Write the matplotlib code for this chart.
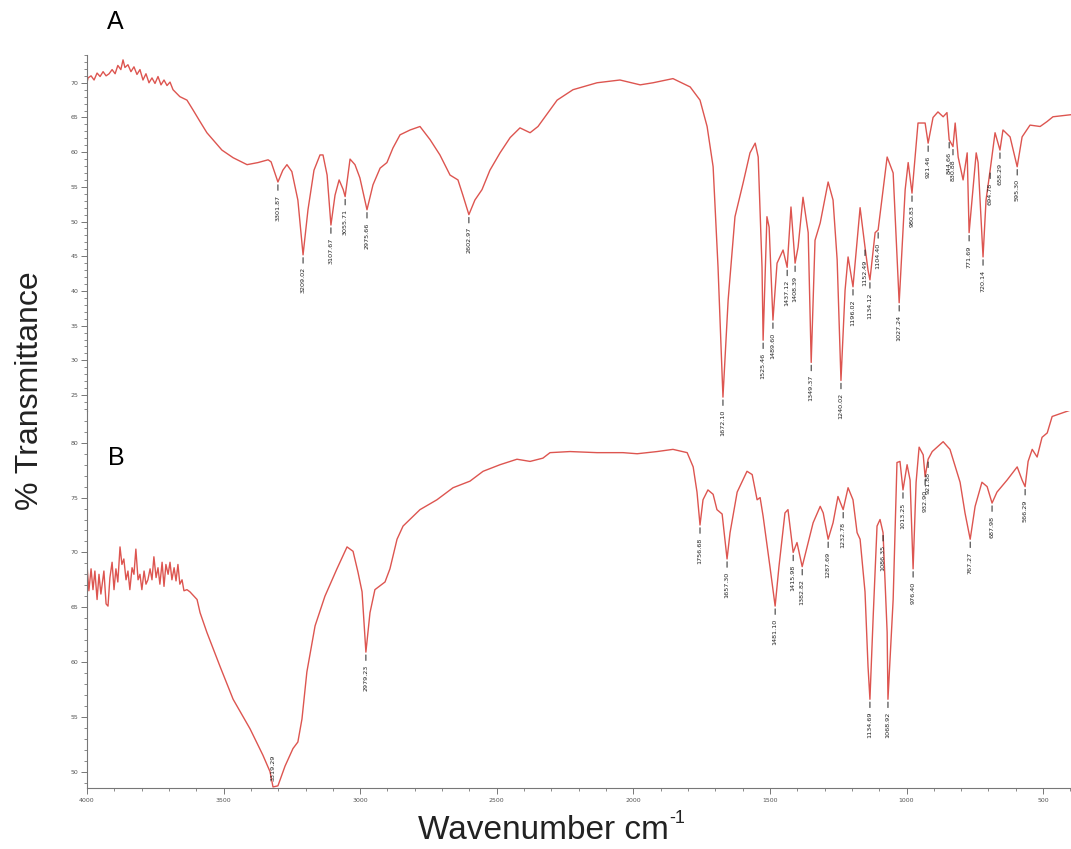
import matplotlib.pyplot as plt
from matplotlib.ticker import MultipleLocator

# Spectrum A (wavenumber cm-1, % transmittance)
A_wn = [4000, 3996, 3985, 3974, 3963, 3952, 3941, 3930, 3919, 3908, 3897, 3887, 3876, 3868,
        3861, 3850, 3839, 3828, 3817, 3806, 3795, 3784, 3773, 3762, 3751, 3740, 3729, 3718,
        3707, 3696, 3685, 3660, 3634, 3612, 3586, 3561, 3539, 3506, 3465, 3414, 3374, 3337,
        3326, 3301, 3283, 3268, 3250, 3228, 3209, 3191, 3169, 3147, 3136, 3121, 3107, 3092,
        3077, 3062, 3055, 3037, 3019, 3001, 2975, 2953, 2927, 2902, 2880, 2854, 2817, 2781,
        2744, 2708, 2671, 2642, 2624, 2602, 2580, 2554, 2525, 2488, 2451, 2415, 2378, 2349,
        2279, 2221, 2133, 2049, 1975, 1928, 1855, 1792, 1756, 1730, 1708, 1690, 1672, 1653,
        1628, 1598, 1573, 1554, 1543, 1529, 1525, 1511, 1503, 1489, 1474, 1452, 1437, 1423,
        1408, 1397, 1379, 1360, 1349, 1335, 1316, 1287, 1269, 1254, 1240, 1225, 1214, 1196,
        1170, 1152, 1141, 1134, 1115, 1104, 1071, 1049, 1027, 1005, 994, 980, 958, 932,
        921, 903, 885, 866, 852, 844, 830, 822, 811, 793, 778, 771, 756, 745,
        738, 720, 709, 694, 676, 658, 647, 621, 595, 577, 548, 511, 486, 464, 398]
A_T = [70.0, 70.7, 71.0, 70.4, 71.4, 70.9, 71.6, 71.0, 71.3, 71.9, 71.3, 72.5, 71.9, 73.3,
       72.2, 72.6, 71.6, 72.3, 71.2, 71.9, 70.4, 71.3, 70.0, 70.7, 69.9, 70.9, 69.7, 70.4,
       69.6, 70.1, 69.0, 68.0, 67.5, 66.1, 64.4, 62.8, 61.8, 60.3, 59.2, 58.2, 58.5, 58.9,
       58.6, 55.7, 57.4, 58.2, 57.2, 53.1, 45.2, 51.7, 57.4, 59.6, 59.6, 56.7, 49.5, 53.8,
       56.0, 54.6, 53.6, 59.0, 58.2, 56.3, 51.7, 55.3, 57.7, 58.5, 60.6, 62.5, 63.2, 63.7,
       61.8, 59.6, 56.7, 56.0, 53.8, 51.0, 53.1, 54.6, 57.4, 59.9, 62.1, 63.5, 62.8, 63.7,
       67.5, 69.0, 70.0, 70.4, 69.7, 70.0, 70.6, 69.4, 67.5, 63.7, 57.9, 43.4, 24.7, 38.7,
       50.7, 55.6, 59.9, 61.3, 59.3, 43.4, 32.9, 50.7, 49.2, 35.8, 44.0, 45.9, 43.4, 52.1,
       44.0, 46.3, 53.5, 48.4, 29.7, 47.3, 49.8, 55.7, 53.1, 44.5, 27.1, 40.1, 44.9, 40.6,
       52.0, 46.3, 43.0, 41.6, 48.4, 48.8, 59.3, 57.0, 38.3, 54.6, 58.5, 54.1, 64.2, 64.2,
       61.3, 65.0, 65.8, 65.1, 65.7, 61.8, 60.8, 64.2, 59.3, 56.0, 59.9, 48.4, 55.0, 59.9,
       58.5, 44.9, 53.1, 57.4, 62.8, 60.3, 63.2, 62.2, 57.9, 62.2, 63.9, 63.7, 64.4, 65.1, 65.4]

# Spectrum B
B_wn = [4000, 3993, 3985, 3978, 3971, 3963, 3956, 3949, 3938, 3930, 3923, 3916, 3908, 3901,
        3894, 3887, 3879, 3872, 3865, 3857, 3850, 3843, 3835, 3828, 3821, 3813, 3806, 3799,
        3791, 3784, 3777, 3769, 3762, 3755, 3747, 3740, 3733, 3725, 3718, 3711, 3703, 3696,
        3689, 3681, 3674, 3667, 3660, 3652, 3645, 3634, 3623, 3597, 3586, 3561, 3513, 3465,
        3403, 3356, 3330, 3319, 3301, 3275, 3246, 3228, 3213, 3195, 3165, 3129, 3085, 3048,
        3026, 3008, 2993, 2979, 2964, 2946, 2909, 2891, 2865, 2843, 2781, 2719, 2660, 2598,
        2550, 2488, 2426, 2378, 2331, 2305, 2232, 2133, 2038, 1986, 1913, 1855, 1803, 1781,
        1767, 1756, 1745, 1727, 1708, 1694, 1675, 1657, 1646, 1620, 1584, 1565, 1547, 1536,
        1525, 1500, 1481, 1467, 1445, 1434, 1415, 1401, 1382, 1364, 1342, 1316, 1305, 1287,
        1269, 1251, 1232, 1214, 1196, 1181, 1170, 1152, 1141, 1134, 1122, 1108, 1097, 1086,
        1071, 1068, 1049, 1035, 1024, 1013, 998, 987, 976, 965, 954, 939, 932, 921,
        906, 888, 866, 841, 804, 786, 767, 749, 724, 705, 687, 669, 632, 595,
        577, 566, 555, 540, 522, 504, 485, 467, 398]
B_T = [68.9, 66.5, 68.5, 66.6, 68.3, 65.7, 68.0, 66.2, 68.3, 65.3, 65.1, 67.7, 69.1, 66.6,
       68.5, 67.3, 70.5, 68.9, 69.4, 67.5, 68.3, 66.6, 68.6, 68.0, 70.3, 67.5, 68.0, 66.6,
       68.3, 67.1, 67.5, 68.5, 67.5, 69.6, 67.7, 68.6, 67.1, 69.1, 66.9, 68.9, 68.0, 69.1,
       67.5, 68.6, 67.4, 68.9, 67.1, 67.5, 66.5, 66.6, 66.4, 65.7, 64.5, 62.7, 59.6, 56.6,
       53.9, 51.5, 50.0, 48.6, 48.7, 50.5, 52.1, 52.7, 54.8, 59.1, 63.3, 66.0, 68.5, 70.5,
       70.1, 68.2, 66.4, 60.9, 64.5, 66.6, 67.3, 68.5, 71.2, 72.4, 73.9, 74.8, 75.9, 76.5,
       77.4, 78.0, 78.5, 78.3, 78.6, 79.1, 79.2, 79.1, 79.1, 79.0, 79.2, 79.4, 79.1, 77.8,
       75.5, 72.5, 74.8, 75.7, 75.3, 73.9, 73.5, 69.4, 71.8, 75.5, 77.4, 77.1, 74.8, 75.0,
       73.3, 68.7, 65.1, 68.7, 73.6, 73.9, 70.0, 70.9, 68.7, 70.5, 72.7, 74.2, 73.6, 71.2,
       72.7, 75.1, 73.9, 75.9, 74.8, 71.8, 71.2, 66.4, 59.6, 56.6, 64.2, 72.4, 73.0, 71.8,
       62.7, 56.6, 65.7, 78.2, 78.3, 75.7, 78.0, 76.6, 68.5, 76.4, 79.6, 78.9, 76.9, 78.5,
       79.2, 79.6, 80.1, 79.4, 76.4, 73.6, 71.2, 74.2, 76.4, 76.0, 74.5, 75.5, 76.6, 77.8,
       76.6, 76.0, 78.3, 79.4, 78.7, 80.5, 80.9, 82.4, 83.0]

# peak labels
A_peak_wn = [3301, 3209, 3107, 3055, 2975, 2602, 1672, 1525, 1489, 1437, 1408, 1349, 1240,
             1196, 1152, 1134, 1104, 1027, 980, 921, 844, 830, 771, 720, 694, 658, 595]
A_peak_T = [55.7, 45.2, 49.5, 53.6, 51.7, 51.0, 24.7, 32.9, 35.8, 43.4, 44.0, 29.7, 27.1,
            40.6, 46.3, 41.6, 48.8, 38.3, 54.1, 61.3, 61.8, 60.8, 48.4, 44.9, 57.4, 60.3, 57.9]
A_peak_txt = ["3301.87", "3209.02", "3107.67", "3055.71", "2975.66", "2602.97", "1672.10",
              "1525.46", "1489.60", "1437.12", "1408.39", "1349.37", "1240.02", "1196.02",
              "1152.49", "1134.12", "1104.40", "1027.24", "980.83", "921.46", "844.66",
              "830.88", "771.69", "720.14", "694.78", "658.29", "595.30"]

B_peak_wn = [2979, 1756, 1657, 1481, 1415, 1382, 1287, 1232, 1134, 1086, 1068, 1013, 976,
             932, 921, 767, 687, 566]
B_peak_T = [60.9, 72.5, 69.4, 65.1, 70.0, 68.7, 71.2, 73.9, 56.6, 71.8, 56.6, 75.7, 68.5,
            76.9, 78.5, 71.2, 74.5, 76.0]
B_peak_txt = ["2979.23", "1756.68", "1657.30", "1481.10", "1415.98", "1382.82", "1287.69",
              "1232.78", "1134.69", "1086.35", "1068.92", "1013.25", "976.40", "932.90",
              "921.88", "767.27", "687.98", "566.29"]
B_bottom_wn, B_bottom_T, B_bottom_txt = 3319, 48.6, "3319.29"

line_col = "#dd5550"
axis_col = "#777777"

fig = plt.figure(figsize=(10.71, 8.49), dpi=100)
axA = fig.add_axes([0.0812, 0.5159, 0.9188, 0.4193])
axB = fig.add_axes([0.0812, 0.0718, 0.9188, 0.4441], sharex=axA)

axA.plot(A_wn, A_T, color=line_col, lw=1.0)
axB.plot(B_wn, B_T, color=line_col, lw=1.0)

axA.set_xlim(4000, 398)
axA.set_ylim(22.7, 74.0)
axB.set_ylim(48.5, 82.9)


def label_peaks(ax, wns, ts, txts):
    for w, t, s in zip(wns, ts, txts):
        ax.annotate(s, xy=(w, t), xytext=(0, -9), textcoords="offset points",
                    rotation=90, ha="center", va="top", fontsize=4.6, color="#222222",
                    arrowprops=dict(arrowstyle="-", color="#222222", lw=0.7,
                                    shrinkA=1, shrinkB=2))


label_peaks(axA, A_peak_wn, A_peak_T, A_peak_txt)
label_peaks(axB, B_peak_wn, B_peak_T, B_peak_txt)
axB.annotate(B_bottom_txt, xy=(B_bottom_wn, B_bottom_T), xytext=(0, 4),
             textcoords="offset points", rotation=90, ha="center", va="bottom",
             fontsize=4.6, color="#222222")

for ax in (axA, axB):
    for side in ("top", "right"):
        ax.spines[side].set_visible(False)
    ax.spines["left"].set_color(axis_col)
    ax.spines["left"].set_linewidth(0.8)
    ax.yaxis.set_minor_locator(MultipleLocator(1))
    ax.tick_params(axis="y", which="major", length=4, width=0.7, color=axis_col,
                   labelsize=4.5, labelcolor="#555555", pad=2)
    ax.tick_params(axis="y", which="minor", length=2, width=0.6, color=axis_col)
    ax.set_facecolor("none")

axA.spines["bottom"].set_visible(False)
axA.tick_params(axis="x", which="both", bottom=False, labelbottom=False)
axA.set_yticks([25, 30, 35, 40, 45, 50, 55, 60, 65, 70])
axB.set_yticks([50, 55, 60, 65, 70, 75, 80])

axB.spines["bottom"].set_color(axis_col)
axB.spines["bottom"].set_linewidth(0.8)
axB.set_xticks([4000, 3500, 3000, 2500, 2000, 1500, 1000, 500])
axB.xaxis.set_minor_locator(MultipleLocator(100))
axB.tick_params(axis="x", which="major", length=4, width=0.7, color=axis_col,
                labelsize=4.5, labelcolor="#555555", pad=3)
axB.tick_params(axis="x", which="minor", length=2, width=0.6, color=axis_col)

fig.text(0.100, 0.974, "A", fontsize=18, family="Liberation Sans", va="center")
fig.text(0.101, 0.460, "B", fontsize=18, family="Liberation Sans", va="center")
fig.text(0.028, 0.54, "% Transmittance", rotation=90, fontsize=23,
         family="Liberation Sans", ha="center", va="center", color="#222222")

# x label with a small "-1" superscript placed right after "cm"
xl = fig.text(0.390, 0.022, "Wavenumber cm", fontsize=24,
              family="Liberation Sans", ha="left", va="center", color="#222222")
fig.canvas.draw()
bb = xl.get_window_extent().transformed(fig.transFigure.inverted())
fig.text(bb.x1 + 0.001, 0.036, "-1", fontsize=13, family="Liberation Sans",
         ha="left", va="center", color="#222222")

fig.savefig("out.png", dpi=100)
